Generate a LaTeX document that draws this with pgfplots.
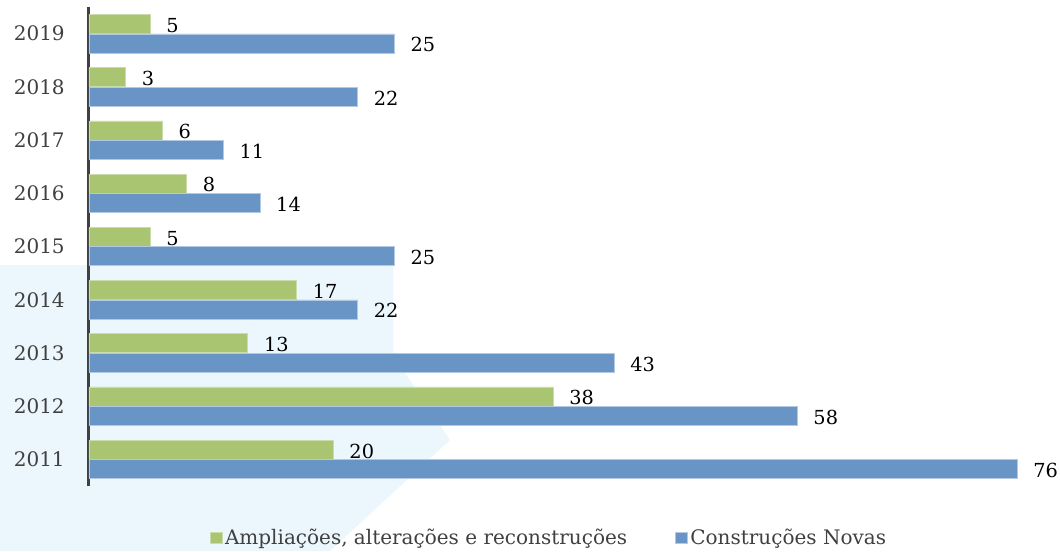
\documentclass[border=0pt]{standalone}
\usepackage{fontspec}
\setmainfont{DejaVu Serif}
\usepackage{pgfplots}
\pgfplotsset{compat=1.18}
\definecolor{grn}{HTML}{A9C572}
\definecolor{blu}{HTML}{6894C6}
\definecolor{txt}{HTML}{404040}
\definecolor{bg}{HTML}{EBF7FC}
\begin{document}
\begin{tikzpicture}[x=0.75pt,y=0.75pt]
\path[use as bounding box] (-89,-65) rectangle (971,486);
\fill[bg] (-89,221) -- (304,221) -- (304,131) -- (361,46) -- (241,-65) -- (-89,-65) -- cycle;
\begin{axis}[
  at={(0,0)}, anchor=south west,
  scale only axis, width=696pt, height=359.25pt,
  xmin=0, xmax=76, ymin=-0.5, ymax=8.5,
  clip=false,
  xbar, bar width=14.25pt,
  axis x line=none, axis y line=left,
  y axis line style={draw=txt, line width=2.25pt, -},
  ytick={0,...,8}, yticklabels={2011,2012,2013,2014,2015,2016,2017,2018,2019},
  ytick style={draw=none}, major tick length=0pt,
  yticklabel style={font=\fontsize{15}{18}\selectfont, text=txt, anchor=east, inner sep=0pt, xshift=-18pt},
  /pgf/number format/assume math mode=true,
  nodes near coords,
  nodes near coords style={font=\fontsize{14.5}{17}\selectfont, text=black, anchor=west, inner sep=0pt, xshift=12pt, yshift=-1pt},
  legend columns=2,
  legend style={at={(0.496,-0.1086)}, anchor=center, draw=none, fill=none,
    font=\fontsize{15}{18}\selectfont, text=txt,
    /tikz/every even column/.append style={column sep=34pt}},
  legend image code/.code={\fill[#1] (-6pt,-4.2pt) rectangle (3pt,4.2pt);},
]
\addplot[fill=grn, draw=grn!60!white, bar shift=7.3pt] coordinates {(20,0) (38,1) (13,2) (17,3) (5,4) (8,5) (6,6) (3,7) (5,8)};
\addplot[fill=blu, draw=blu!50!white, bar shift=-7.3pt] coordinates {(76,0) (58,1) (43,2) (22,3) (25,4) (14,5) (11,6) (22,7) (25,8)};
\legend{{Ampliações, alterações e reconstruções}, {Construções Novas}}
\end{axis}
\end{tikzpicture}
\end{document}
